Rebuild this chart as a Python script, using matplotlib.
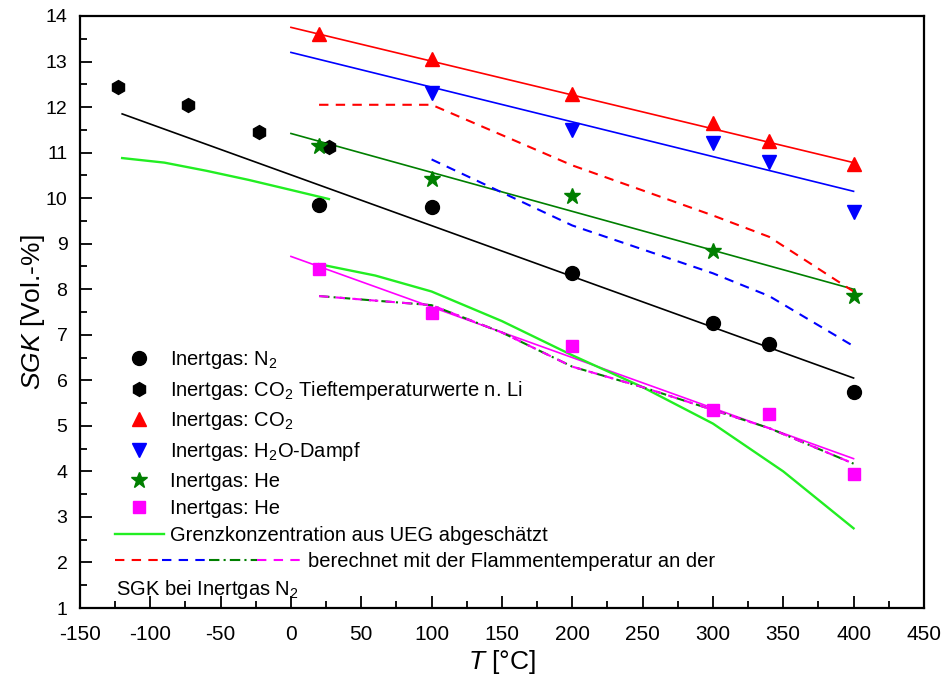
import numpy as np
import matplotlib
matplotlib.use('Agg')
import matplotlib.pyplot as plt
from matplotlib.lines import Line2D
from matplotlib.legend_handler import HandlerBase

plt.rcParams['font.family'] = ['Liberation Sans', 'DejaVu Sans']
plt.rcParams['mathtext.fontset'] = 'custom'
plt.rcParams['mathtext.rm'] = 'Liberation Sans'
plt.rcParams['mathtext.it'] = 'Liberation Sans:italic'
plt.rcParams['axes.unicode_minus'] = False

# measured points
t_n2 = [20, 100, 200, 300, 340, 400]
sgk_n2 = [9.85, 9.8, 8.35, 7.25, 6.8, 5.75]

t_li = [-123, -73, -23, 27]
sgk_li = [12.45, 12.05, 11.45, 11.12]

t_co2 = [20, 100, 200, 300, 340, 400]
sgk_co2 = [13.6, 13.05, 12.28, 11.65, 11.25, 10.75]

t_h2o = [100, 200, 300, 340, 400]
sgk_h2o = [12.3, 11.5, 11.2, 10.8, 9.7]

t_he_star = [20, 100, 200, 300, 400]
sgk_he_star = [11.15, 10.42, 10.05, 8.85, 7.85]

t_he_sq = [20, 100, 200, 300, 340, 400]
sgk_he_sq = [8.45, 7.47, 6.75, 5.35, 5.25, 3.95]

# regression lines (end points)
fit_n2_t = [-120, 400]
fit_n2_y = [11.85, 6.05]
fit_co2_t = [0, 400]
fit_co2_y = [13.75, 10.78]
fit_h2o_t = [0, 400]
fit_h2o_y = [13.2, 10.15]
fit_he_t = [0, 400]
fit_he_y = [11.42, 8.0]
fit_hesq_t = [0, 400]
fit_hesq_y = [8.72, 4.28]

# Grenzkonzentration aus UEG
ueg1_t = [-120, -90, -60, -30, 0, 27]
ueg1_y = [10.88, 10.78, 10.6, 10.4, 10.18, 9.98]
ueg2_t = [20, 60, 100, 150, 200, 250, 300, 350, 400]
ueg2_y = [8.55, 8.3, 7.95, 7.3, 6.55, 5.85, 5.05, 4.0, 2.75]

# berechnet mit Flammentemperatur
calc_co2_t = [20, 100, 200, 300, 340, 400]
calc_co2_y = [12.05, 12.05, 10.72, 9.62, 9.15, 7.95]
calc_h2o_t = [100, 200, 300, 340, 400]
calc_h2o_y = [10.85, 9.4, 8.35, 7.85, 6.75]
calc_he_t = [20, 100, 150, 200, 250, 300, 340, 400]
calc_he_y = [7.85, 7.65, 7.05, 6.3, 5.85, 5.35, 4.95, 4.17]

RED = '#ff0000'
BLUE = '#0000ff'
GREEN = '#007f00'
LIME = '#22ee22'
MAG = '#ff00ff'

fig = plt.figure(figsize=(9.44, 6.77), dpi=100)
ax = fig.add_axes([0.0847, 0.1019, 0.894, 0.8745])

ax.plot(fit_co2_t, fit_co2_y, color=RED, lw=1.2)
ax.plot(fit_h2o_t, fit_h2o_y, color=BLUE, lw=1.2)
ax.plot(fit_he_t, fit_he_y, color=GREEN, lw=1.2)
ax.plot(fit_n2_t, fit_n2_y, color='black', lw=1.2)
ax.plot(fit_hesq_t, fit_hesq_y, color=MAG, lw=1.2)

ax.plot(ueg1_t, ueg1_y, color=LIME, lw=1.7)
ax.plot(ueg2_t, ueg2_y, color=LIME, lw=1.7)

ax.plot(calc_co2_t, calc_co2_y, color=RED, lw=1.5, dashes=[4.5, 3.5])
ax.plot(calc_h2o_t, calc_h2o_y, color=BLUE, lw=1.5, dashes=[4.5, 3.5])
ax.plot(calc_he_t, calc_he_y, color=GREEN, lw=1.5, dashes=[5, 2, 1, 2])
ax.plot(calc_he_t, calc_he_y, color=MAG, lw=1.5, dashes=[4.5, 3.5])

ax.plot(t_n2, sgk_n2, 'o', color='black', ms=10, ls='none', label='Inertgas: N$_2$')
ax.plot(t_li, sgk_li, 'h', color='black', ms=10, ls='none',
        label='Inertgas: CO$_2$ Tieftemperaturwerte n. Li')
ax.plot(t_co2, sgk_co2, '^', color=RED, ms=10, ls='none', label='Inertgas: CO$_2$')
ax.plot(t_h2o, sgk_h2o, 'v', color=BLUE, ms=10, ls='none', label='Inertgas: H$_2$O-Dampf')
ax.plot(t_he_star, sgk_he_star, '*', color=GREEN, ms=12, ls='none', label='Inertgas: He')
ax.plot(t_he_sq, sgk_he_sq, 's', color=MAG, ms=8, ls='none', label='Inertgas: He')
ueg_proxy = Line2D([], [], color=LIME, lw=1.7)

ax.set_xlim(-150, 450)
ax.set_ylim(1, 14)
ax.set_xticks(np.arange(-150, 451, 50))
ax.set_yticks(np.arange(1, 15, 1))
ax.set_xticks(np.arange(-125, 450, 50), minor=True)
ax.set_yticks(np.arange(1.5, 14, 1), minor=True)
ax.tick_params(direction='in', which='major', length=8.5, width=1.3)
ax.tick_params(direction='in', which='minor', length=5, width=1.3)
ax.tick_params(axis='x', which='major', labelsize=15, pad=12)
ax.tick_params(axis='y', which='major', labelsize=14, pad=9)
for s in ax.spines.values():
    s.set_linewidth(1.6)

ax.set_xlabel('$T$ [°C]', fontsize=19, labelpad=3)
ax.set_ylabel('$SGK$ [Vol.-%]', fontsize=19, labelpad=-1)


class MultiDashHandler(HandlerBase):
    def create_artists(self, legend, orig_handle, xdescent, ydescent,
                       width, height, fontsize, trans):
        styles = [(RED, [4.5, 3.5]), (BLUE, [4.5, 3.5]),
                  (GREEN, [5, 2, 1, 2]), (MAG, [4.5, 3.5])]
        y = height / 2 - ydescent
        arts = []
        n = len(styles)
        for i, (c, d) in enumerate(styles):
            x0 = -xdescent + width * i / n
            x1 = x0 + width / n
            ln = Line2D([x0, x1], [y, y], color=c, lw=1.5, dashes=d)
            ln.set_transform(trans)
            arts.append(ln)
        return arts


handles, labels = ax.get_legend_handles_labels()
handles.append(ueg_proxy)
labels.append('Grenzkonzentration aus UEG abgeschätzt')
leg1 = ax.legend(handles, labels, loc='lower left', bbox_to_anchor=(0.041, 0.107),
                 frameon=False, fontsize=14.5, handlelength=2.45, handletextpad=0.3,
                 labelspacing=0.4, borderpad=0, borderaxespad=0)
ax.add_artist(leg1)

calc_proxy = Line2D([], [])
ax.legend([calc_proxy], ['berechnet mit der Flammentemperatur an der'],
          handler_map={calc_proxy: MultiDashHandler()},
          loc='lower left', bbox_to_anchor=(0.041, 0.062), frameon=False,
          fontsize=14.5, handlelength=9.4, handletextpad=0.2,
          borderpad=0, borderaxespad=0)
ax.text(0.043, 0.012, 'SGK bei Inertgas N$_2$', transform=ax.transAxes,
        fontsize=14.5, ha='left', va='bottom')

fig.savefig('out.png', dpi=100)
